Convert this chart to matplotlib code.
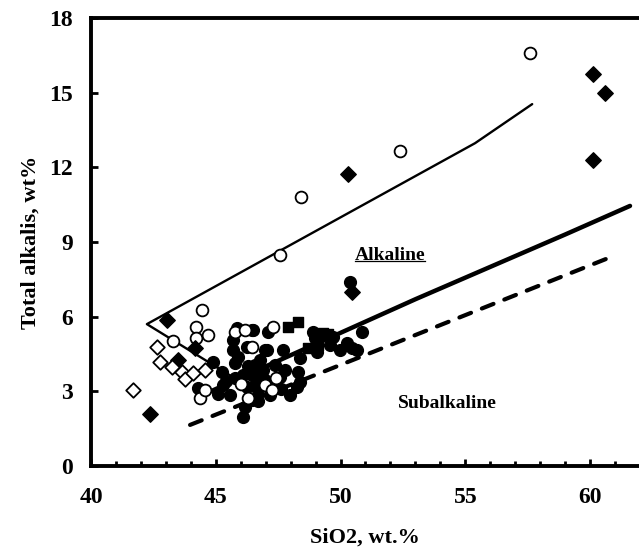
import matplotlib
matplotlib.use("Agg")
import matplotlib.pyplot as plt
from matplotlib.ticker import MultipleLocator

plt.rcParams['font.family'] = ['Liberation Serif', 'DejaVu Serif']
plt.rcParams['font.weight'] = 'bold'

# boundary lines (SiO2, total alkalis)
upper_x = [45.8, 42.24, 55.39, 57.68]
upper_y = [3.5, 5.70, 12.97, 14.54]
thick_x = [44.8, 47.0, 49.0, 51.0, 53.0, 56.0, 59.0, 61.6]
thick_y = [3.0, 4.0, 4.9, 5.8, 6.7, 8.0, 9.3, 10.45]
dash_x = [43.97, 60.72]
dash_y = [1.65, 8.35]

# samples
open_circ_x = [57.6, 52.38, 48.42, 47.57, 44.45, 44.2, 44.2, 44.7, 43.29,
               45.77, 46.45, 47.29, 46.17, 46.97, 47.25, 46.29, 44.37, 44.57,
               46.0, 47.4]
open_circ_y = [16.6, 12.65, 10.8, 8.47, 6.27, 5.58, 5.14, 5.26, 5.02,
               5.38, 4.78, 5.58, 5.46, 3.25, 3.05, 2.73, 2.73, 3.05,
               3.3, 3.55]

fill_circ_x = [46.09, 46.17, 46.45, 44.89, 45.25, 44.29, 45.29, 45.77, 45.69, 46.25,
               46.45, 45.89, 46.09, 46.85, 46.25, 45.85, 46.49, 46.97, 47.09, 45.69,
               45.77, 47.70, 47.58, 48.38, 48.30, 48.38, 48.26, 48.90, 48.98, 49.06,
               50.26, 50.46, 50.66, 50.86, 49.70, 50.38, 46.57, 46.69, 46.97, 47.17,
               47.37, 46.45, 46.77, 47.37, 47.78, 45.57, 47.98, 49.58, 49.98, 47.05,
               46.6, 46.9, 46.3, 47.1, 45.4, 46.7, 47.6, 45.1]
fill_circ_y = [1.97, 2.37, 2.65, 4.18, 3.78, 3.13, 3.25, 3.53, 5.06, 4.78,
               5.46, 4.38, 3.65, 3.57, 3.17, 5.54, 5.46, 4.66, 5.38, 4.66,
               4.14, 4.66, 3.57, 4.34, 3.78, 3.37, 3.17, 5.38, 5.14, 4.58,
               4.94, 4.74, 4.66, 5.38, 5.18, 7.39, 4.06, 3.05, 3.45, 2.85,
               3.25, 3.65, 4.26, 4.06, 3.86, 2.85, 2.85, 4.86, 4.66, 4.66,
               3.35, 3.85, 4.0, 3.2, 3.4, 2.6, 3.1, 2.9]

fill_diam_x = [60.12, 60.6, 60.12, 50.3, 50.46, 43.05, 44.17, 43.49, 42.36]
fill_diam_y = [15.74, 14.98, 12.29, 11.73, 6.99, 5.86, 4.74, 4.26, 2.09]

open_diam_x = [42.65, 42.77, 43.25, 43.65, 43.77, 44.09, 44.57, 41.68]
open_diam_y = [4.78, 4.18, 3.98, 3.78, 3.49, 3.73, 3.86, 3.05]

square_x = [47.9, 48.3, 49.3, 49.5, 49.1, 48.7]
square_y = [5.6, 5.8, 5.35, 5.3, 4.85, 4.75]

fig = plt.figure(figsize=(6.39, 5.59), dpi=100)
ax = fig.add_axes([0.1424, 0.1664, 0.8576, 0.8014])

ax.plot(upper_x, upper_y, color='black', lw=1.7, solid_capstyle='round')
ax.plot(thick_x, thick_y, color='black', lw=3.2, solid_capstyle='round')
ax.plot(dash_x, dash_y, color='black', lw=3.0, dashes=(3.0, 2.8), dash_capstyle='round')

ax.scatter(fill_circ_x, fill_circ_y, s=72, c='black', marker='o', zorder=3)
ax.scatter(open_circ_x, open_circ_y, s=72, facecolors='white', edgecolors='black',
           linewidths=1.3, marker='o', zorder=4)
ax.scatter(square_x, square_y, s=60, c='black', marker='s', zorder=3)
ax.scatter(fill_diam_x, fill_diam_y, s=62, c='black', marker='D', zorder=4)
ax.scatter(open_diam_x, open_diam_y, s=55, facecolors='white', edgecolors='black',
           linewidths=1.3, marker='D', zorder=4)

alk = ax.text(51.98, 8.45, 'Alkaline', fontsize=14, fontweight='bold', ha='center',
              va='center')
ax.text(54.3, 2.53, 'Subalkaline', fontsize=14, fontweight='bold', ha='center',
        va='center')

ax.set_xlim(40, 61.96)
ax.set_ylim(0, 18)
ax.xaxis.set_major_locator(MultipleLocator(5))
ax.xaxis.set_minor_locator(MultipleLocator(1))
ax.yaxis.set_major_locator(MultipleLocator(3))
ax.tick_params(axis='x', which='major', direction='in', length=5, width=2,
               labelsize=17, pad=15)
ax.tick_params(axis='x', which='minor', direction='in', length=3.5, width=2)
ax.tick_params(axis='y', which='major', direction='in', length=5, width=2,
               labelsize=17, pad=13)
for lab in ax.get_xticklabels() + ax.get_yticklabels():
    lab.set_fontweight('bold')

for side in ['left', 'bottom', 'top']:
    ax.spines[side].set_linewidth(2.8)
ax.spines['right'].set_visible(False)

ax.set_xlabel('SiO2, wt.%', fontsize=16, fontweight='bold', labelpad=14)
ax.set_ylabel('Total alkalis, wt%', fontsize=16, fontweight='bold', labelpad=6)

# underline "Alkaline"
fig.canvas.draw()
bb = alk.get_window_extent().transformed(ax.transData.inverted())
ax.plot([bb.x0, bb.x1], [bb.y0 + 0.12, bb.y0 + 0.12], color='black', lw=0.9)

fig.savefig('out.png', dpi=100)
